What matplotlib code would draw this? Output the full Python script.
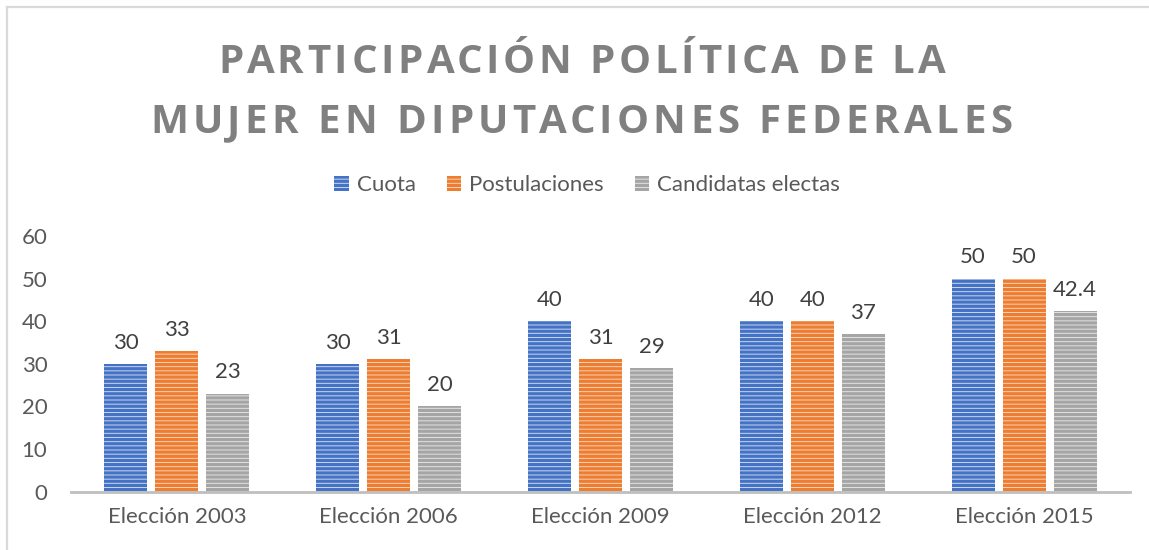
import matplotlib
matplotlib.use("Agg")
import matplotlib.pyplot as plt
import numpy as np
from matplotlib.patches import Patch
from matplotlib.lines import Line2D

categories = ["Elección 2003", "Elección 2006", "Elección 2009", "Elección 2012", "Elección 2015"]
series_names = ["Cuota", "Postulaciones", "Candidatas electas"]
cuota = [30, 30, 40, 40, 50]
postulaciones = [33, 31, 31, 40, 50]
electas = [23, 20, 29, 37, 42.4]
value_labels = [["30", "30", "40", "40", "50"],
                ["33", "31", "31", "40", "50"],
                ["23", "20", "29", "37", "42.4"]]
title_lines = ["PARTICIPACIÓN POLÍTICA DE LA", "MUJER EN DIPUTACIONES FEDERALES"]
yticks = [0, 10, 20, 30, 40, 50, 60]

colors = ["#4472c4", "#ed7d31", "#a5a5a5"]
light = ["#c9d6ee", "#f8d2b8", "#e2e2e2"]

W, H, DPI = 1149, 550, 100
plt.rcParams["font.family"] = ["Lato", "DejaVu Sans"]
plt.rcParams["hatch.linewidth"] = 2.3
fig = plt.figure(figsize=(W / DPI, H / DPI), dpi=DPI)

# chart border (top/left visible)
fig.add_artist(Line2D([6.5 / W, 6.5 / W], [0, 1 - 6.5 / H], transform=fig.transFigure,
                      color="#d9d9d9", lw=1.6))
fig.add_artist(Line2D([6.5 / W, 1], [1 - 6.5 / H, 1 - 6.5 / H], transform=fig.transFigure,
                      color="#d9d9d9", lw=1.6))

ax_left, ax_right = 71 / W, 1130 / W
ax_bottom, ax_top = (H - 491.5) / H, (H - 236) / H
ax = fig.add_axes([ax_left, ax_bottom, ax_right - ax_left, ax_top - ax_bottom])

FS = 16
data = [cuota, postulaciones, electas]
x = np.arange(len(categories))
bw = 0.203
pitch = 0.241
for i, vals in enumerate(data):
    pos = x + (i - 1) * pitch
    ax.bar(pos, vals, width=bw, color=light[i], edgecolor=colors[i], hatch="----",
           linewidth=0, zorder=2)
    for p, v, lab in zip(pos, vals, value_labels[i]):
        ax.annotate(lab, (p, v), xytext=(0, 8), textcoords="offset points",
                    ha="center", va="bottom", fontsize=FS, color="#404040")

ax.set_xlim(-0.5, len(categories) - 0.5)
ax.set_ylim(0, 60)
ax.set_yticks(yticks)
ax.set_yticklabels([str(t) for t in yticks])
ax.set_xticks(x)
ax.set_xticklabels(categories)
for s in ["top", "right", "left"]:
    ax.spines[s].set_visible(False)
ax.spines["bottom"].set_color("#bfbfbf")
ax.spines["bottom"].set_linewidth(2)
ax.tick_params(axis="both", length=0, labelsize=FS, labelcolor="#595959")
ax.tick_params(axis="y", pad=17)
ax.tick_params(axis="x", pad=11)

# legend
handles = [Patch(facecolor=light[i], edgecolor=colors[i], hatch="----", linewidth=0)
           for i in range(3)]
leg = fig.legend(handles, series_names, loc="center", bbox_to_anchor=(587 / W, 1 - 185 / H),
                 ncol=3, frameon=False, fontsize=FS, handlelength=0.65, handleheight=0.65,
                 handletextpad=0.35, columnspacing=1.4, labelcolor="#595959")

# letter-spaced title
renderer = fig.canvas.get_renderer()
targets = [(218, 946, 58), (150, 1012, 118)]
TF = ["Open Sans", "DejaVu Sans"]
for line, (x0, x1, yc) in zip(title_lines, targets):
    fs = 29
    def width(s):
        t = fig.text(0, 0, s + "x", fontsize=fs, fontweight="bold", family=TF)
        w1 = t.get_window_extent(renderer).width
        t.remove()
        t = fig.text(0, 0, "x", fontsize=fs, fontweight="bold", family=TF)
        w2 = t.get_window_extent(renderer).width
        t.remove()
        return w1 - w2
    total = width(line)
    n = len(line)
    spacing = ((x1 - x0) - total) / (n - 1)
    for k, ch in enumerate(line):
        if ch == " ":
            continue
        px = x0 + width(line[:k]) + k * spacing
        fig.text(px / W, 1 - yc / H, ch, fontsize=fs, fontweight="bold", family=TF,
                 color="#808080", ha="left", va="center_baseline")

fig.savefig("out.png", dpi=DPI)
